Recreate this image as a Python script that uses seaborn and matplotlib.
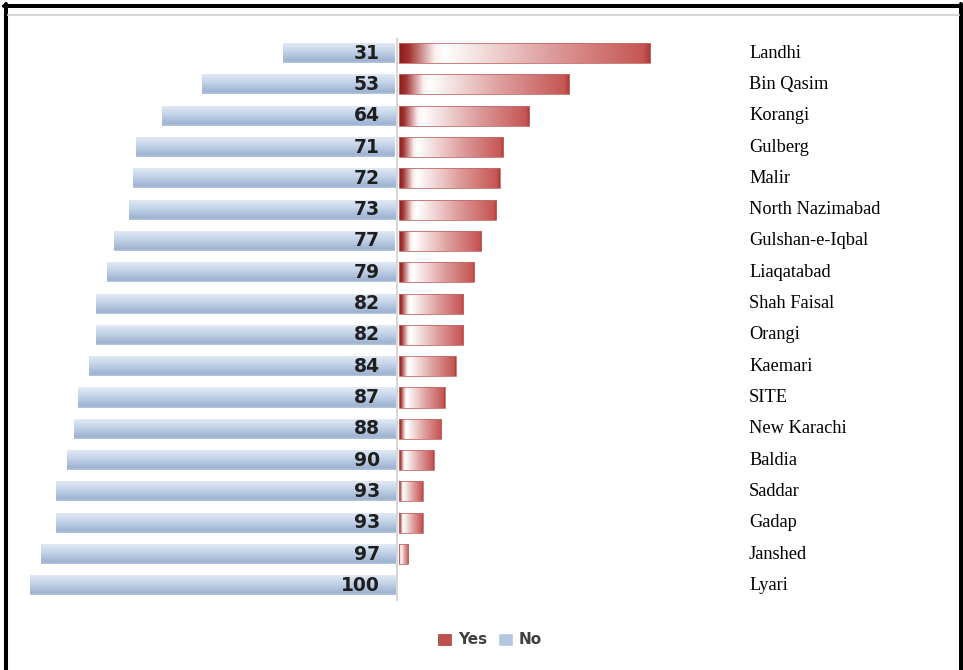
import numpy as np
import pandas as pd
import matplotlib
matplotlib.use("Agg")
import matplotlib.pyplot as plt
import seaborn as sns
from matplotlib.colors import LinearSegmentedColormap
from matplotlib.patches import Patch
from matplotlib.lines import Line2D
from matplotlib.transforms import blended_transform_factory

districts = ["Landhi", "Bin Qasim", "Korangi", "Gulberg", "Malir", "North Nazimabad",
             "Gulshan-e-Iqbal", "Liaqatabad", "Shah Faisal", "Orangi", "Kaemari", "SITE",
             "New Karachi", "Baldia", "Saddar", "Gadap", "Janshed", "Lyari"]
no_pct = [31, 53, 64, 71, 72, 73, 77, 79, 82, 82, 84, 87, 88, 90, 93, 93, 97, 100]
yes_pct = [69, 47, 36, 29, 28, 27, 23, 21, 18, 18, 16, 13, 12, 10, 7, 7, 3, 0]

df = pd.DataFrame({"district": districts,
                   "no_left": [-v for v in no_pct],
                   "yes": yes_pct})

sns.set_theme(style="white")
fig = plt.figure(figsize=(9.63, 6.70), dpi=100)
fig.patch.set_facecolor("white")

W, H = 963, 670
ax = fig.add_axes([30 / W, 69 / H, 710 / W, 563.5 / H])

bar_w = 0.64
sns.barplot(data=df, y="district", x="no_left", orient="h", color="#b8cbe3",
            width=bar_w, order=districts, ax=ax, linewidth=0)
n_no = len(ax.patches)
sns.barplot(data=df, y="district", x="yes", orient="h", color="#c0504d",
            width=bar_w, order=districts, ax=ax, linewidth=0)

xmax = (740 - 397) / 3.67
ax.set_xlim(-100, xmax)
ax.set_ylim(len(districts) - 0.5, -0.5)

# gradient fills clipped to the bars
blue_cmap = LinearSegmentedColormap.from_list(
    "blue_v", [(0.0, "#e4ecf6"), (0.45, "#c3d3e8"), (0.9, "#9db3d1"), (1.0, "#b4c6de")])
red_cmap = LinearSegmentedColormap.from_list(
    "red_h", [(0.0, "#8a1e1e"), (0.04, "#a23634"), (0.14, "#fbeeee"),
              (0.18, "#ffffff"), (0.6, "#dd9d9c"), (0.97, "#c65654"), (1.0, "#a83a38")])

vgrad = blue_cmap(np.linspace(0, 1, 64))[:, None, :3]
hgrad = red_cmap(np.linspace(0, 1, 256))[None, :, :3]

for i, p in enumerate(ax.patches):
    x0, y0, w, h = p.get_x(), p.get_y(), p.get_width(), p.get_height()
    if abs(w) < 1e-9:
        continue
    left, right = min(x0, x0 + w), max(x0, x0 + w)
    if i < n_no:
        img = vgrad
        p.set_facecolor("none")
        right -= 0.5
        p.set_x(left)
        p.set_width(right - left)
    else:
        img = hgrad
        left += 0.5
        p.set_x(left)
        p.set_width(right - left)
        p.set_facecolor("none")
        p.set_edgecolor("#c46a68")
        p.set_linewidth(0.6)
    im = ax.imshow(img, extent=[left, right, y0 + h, y0], aspect="auto",
                   origin="upper", zorder=p.get_zorder() - 0.1, interpolation="bilinear")
    im.set_clip_path(p)

ax.set_xlim(-100, xmax)
ax.set_ylim(len(districts) - 0.5, -0.5)

ax.axvline(0, color="#cfcfcf", lw=1.2, zorder=0.5)

for i, v in enumerate(no_pct):
    ax.text(-4.6, i, str(v), ha="right", va="center", fontsize=13.5,
            fontweight="bold", color="#1f1f1f", family="DejaVu Sans")

trans = blended_transform_factory(fig.transFigure, ax.transData)
for i, name in enumerate(districts):
    ax.text(749 / W, i, name, transform=trans, ha="left", va="center",
            fontsize=13.2, color="black", family="Liberation Serif")

ax.set_axis_off()

handles = [Patch(facecolor="#c0504d", edgecolor="#a03a38", lw=0.5),
           Patch(facecolor="#b4c7e0", edgecolor="#b4c7e0", lw=0.5)]
fig.legend(handles, ["Yes", "No"], loc="center", bbox_to_anchor=(490 / W, 1 - 640 / H),
           ncol=2, frameon=False, handlelength=0.85, handleheight=0.7,
           columnspacing=0.8, handletextpad=0.45,
           prop={"family": "DejaVu Sans", "weight": "bold", "size": 11},
           labelcolor="#404040")

# outer frame
fig.add_artist(Line2D([5.5 / W, 5.5 / W], [0, 1 - 4 / H], transform=fig.transFigure,
                      color="black", lw=2.9))
fig.add_artist(Line2D([961 / W, 961 / W], [0, 1 - 4 / H], transform=fig.transFigure,
                      color="black", lw=2.9))
fig.add_artist(Line2D([4 / W, 963 / W], [1 - 6 / H, 1 - 6 / H], transform=fig.transFigure,
                      color="black", lw=2.9))
fig.add_artist(Line2D([8 / W, 959 / W], [1 - 15 / H, 1 - 15 / H], transform=fig.transFigure,
                      color="#d6d6d6", lw=1.5))

fig.savefig("out.png", dpi=100, facecolor="white")
